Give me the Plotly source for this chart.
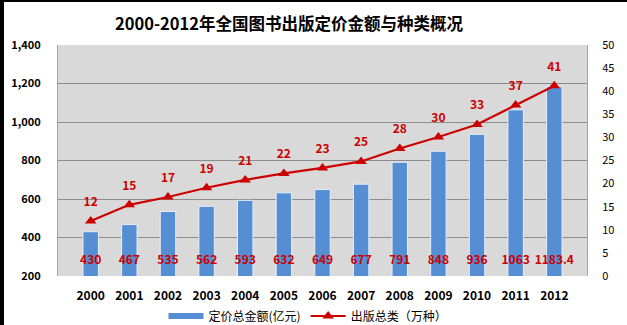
import plotly.graph_objects as go

years = ["2000", "2001", "2002", "2003", "2004", "2005", "2006",
         "2007", "2008", "2009", "2010", "2011", "2012"]
amount = [430, 467, 535, 562, 593, 632, 649, 677, 791, 848, 936, 1063, 1183.4]
amount_labels = ["430", "467", "535", "562", "593", "632", "649", "677",
                 "791", "848", "936", "1063", "1183.4"]
kinds = [11.9, 15.4, 17.1, 19.1, 20.8, 22.2, 23.4, 24.8, 27.6, 30.1, 32.8, 37.0, 41.2]
kinds_labels = ["12", "15", "17", "19", "21", "22", "23", "25", "28", "30", "33", "37", "41"]
left_ticks = [200, 400, 600, 800, 1000, 1200, 1400]
left_tick_text = ["200", "400", "600", "800", "1,000", "1,200", "1,400"]
right_ticks = list(range(0, 51, 5))

W, H = 627, 325
ml, mr, mt, mb = 58, 40, 45, 49
pw, ph = W - ml - mr, H - mt - mb

FONT = "Noto Sans CJK SC, Liberation Sans, sans-serif"
RED = "#cc0000"
BLUE = "#568ed4"

fig = go.Figure()
fig.add_trace(go.Bar(
    x=years, y=amount, base=0, name="定价总金额(亿元)",
    marker=dict(color=BLUE, line=dict(color="#e8eef8", width=1)),
    width=0.4, yaxis="y", hoverinfo="skip", showlegend=False,
))
# legend proxy for the bar series (wide swatch)
fig.add_trace(go.Scatter(
    x=[None], y=[None], mode="lines", name="定价总金额(亿元)",
    line=dict(color=BLUE, width=6), yaxis="y", hoverinfo="skip",
))
# bar value labels near the bottom of the plot
fig.add_trace(go.Scatter(
    x=years, y=[278] * len(years), mode="text", text=amount_labels,
    textfont=dict(color=RED, size=12, family=FONT, weight="bold"),
    showlegend=False, yaxis="y", hoverinfo="skip",
))
fig.add_trace(go.Scatter(
    x=years, y=kinds, name="出版总类（万种）", mode="lines+markers",
    line=dict(color=RED, width=2.2),
    marker=dict(symbol="triangle-up", size=10, color=RED),
    yaxis="y2", hoverinfo="skip",
))
fig.add_trace(go.Scatter(
    x=years, y=[k + 3.9 for k in kinds], mode="text", text=kinds_labels,
    textfont=dict(color=RED, size=12, family=FONT, weight="bold"),
    showlegend=False, yaxis="y2", hoverinfo="skip",
))

# black border strips (left and top) in paper coordinates
shapes = [
    dict(type="rect", xref="paper", yref="paper",
         x0=-ml / pw, x1=(4 - ml) / pw, y0=-mb / ph, y1=1 + mt / ph,
         fillcolor="black", line=dict(width=0), layer="above"),
    dict(type="rect", xref="paper", yref="paper",
         x0=-ml / pw, x1=1 + mr / pw, y0=1 + (mt - 2) / ph, y1=1 + mt / ph,
         fillcolor="black", line=dict(width=0), layer="above"),
]

fig.update_layout(
    width=W, height=H,
    margin=dict(l=ml, r=mr, t=mt, b=mb, autoexpand=False),
    paper_bgcolor="white", plot_bgcolor="#d9d9d9",
    font=dict(family=FONT, color="black", size=11),
    title=dict(text="<b>2000-2012年全国图书出版定价金额与种类概况</b>",
               x=289 / W, xanchor="center", y=1 - 24 / H, yanchor="middle",
               font=dict(size=16.5, family=FONT, color="black")),
    bargap=0.6,
    xaxis=dict(type="category", showgrid=False, ticks="", showline=False,
               tickfont=dict(size=12, family=FONT, weight="bold"),
               ticklabelstandoff=11),
    yaxis=dict(range=[200, 1400], tickvals=left_ticks, ticktext=left_tick_text,
               showgrid=True, gridcolor="#8c8c8c", gridwidth=1,
               tickfont=dict(size=11, family=FONT, weight="bold"),
               ticks="", ticklabelstandoff=14, zeroline=False,
               showline=True, linecolor="#a6a6a6", mirror=False),
    yaxis2=dict(range=[0, 50], tickvals=right_ticks, overlaying="y", side="right",
                showgrid=False, zeroline=False, ticks="",
                tickfont=dict(size=11, family=FONT),
                ticklabelstandoff=12, showline=True, linecolor="#a6a6a6"),
    legend=dict(orientation="h", x=(308 - ml) / pw, xanchor="center",
                y=-(316 - 276) / ph, yanchor="middle",
                font=dict(size=12, family=FONT), bgcolor="rgba(0,0,0,0)",
                itemwidth=35, tracegroupgap=0),
    showlegend=True,
    shapes=shapes,
)

fig.write_html("out.html")
